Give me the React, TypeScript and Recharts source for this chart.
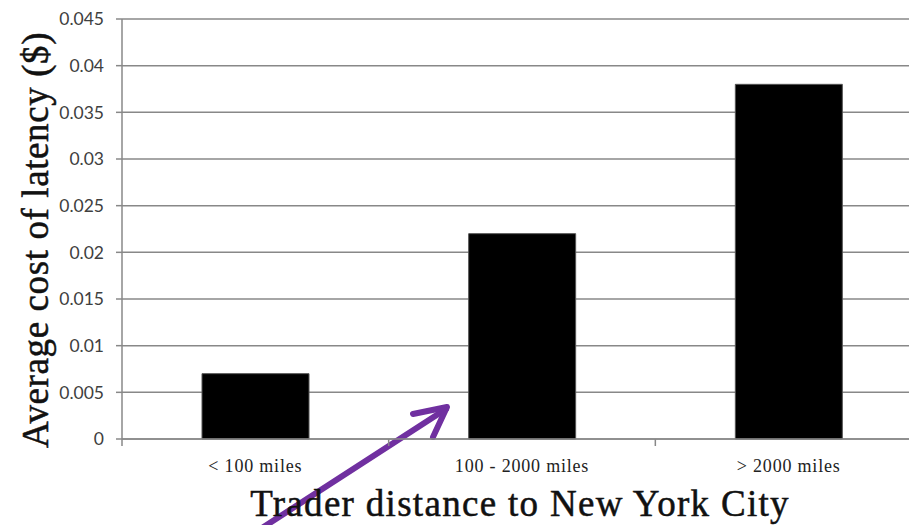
import React from 'react';
import { BarChart, Bar, XAxis, YAxis, CartesianGrid, Customized } from 'recharts';

const categories = ['< 100 miles', '100 - 2000 miles', '> 2000 miles'];
const costs = [0.007, 0.022, 0.038];
const yTicks = [0, 0.005, 0.01, 0.015, 0.02, 0.025, 0.03, 0.035, 0.04, 0.045];

const data = categories.map((c, i) => ({ name: c, cost: costs[i] }));

const titleStyle = { fontFamily: 'Liberation Serif', fill: '#111', stroke: '#111', strokeWidth: 0.5 };
const TICK_MARGIN = 20;

const Arrow = () => (
  <g>
    <line x1={262} y1={528} x2={446} y2={409} stroke="#7030A0" strokeWidth={6} strokeLinecap="round" />
    <polyline points="413,414 447,407 433,437" fill="none" stroke="#7030A0" strokeWidth={6} strokeLinecap="round" strokeLinejoin="round" />
  </g>
);

const YTitle = (props: any) => {
  const vb = props.viewBox || {};
  const cx = 35;
  const cy = vb.y + vb.height / 2 + 11;
  return (
    <text x={cx} y={cy} transform={`rotate(-90, ${cx}, ${cy})`} textAnchor="middle" dominantBaseline="central" fontSize={37} letterSpacing={0.6} style={titleStyle}>
      Average cost of latency ($)
    </text>
  );
};

const XTitle = () => (
  <text x={520} y={516} textAnchor="middle" fontSize={37} letterSpacing={1.3} style={titleStyle}>
    Trader distance to New York City
  </text>
);

const CatTick = (props: any) => {
  const { x, y, payload, index, visibleTicksCount } = props;
  const off = payload && payload.offset ? payload.offset : 0;
  const axisY = y - TICK_MARGIN;
  const last = index === (visibleTicksCount ?? categories.length) - 1;
  return (
    <g>
      <line x1={x - off} x2={x - off} y1={axisY} y2={axisY + 7} stroke="#888" strokeWidth={1.5} />
      {last && <line x1={x + off} x2={x + off} y1={axisY} y2={axisY + 7} stroke="#888" strokeWidth={1.5} />}
      <text x={x} y={y} dy="0.71em" textAnchor="middle" fontFamily="Liberation Serif" fontSize={18} fill="#222" letterSpacing={0.8}>
        {payload.value}
      </text>
    </g>
  );
};

export default function App() {
  return (
    <div style={{ position: 'absolute', left: 0, top: 0, width: 909, height: 525, overflow: 'hidden', background: '#fff' }}>
      <BarChart width={922} height={525} data={data} margin={{ top: 19, right: 0, left: 0, bottom: 0 }} barCategoryGap="30%">
        <CartesianGrid vertical={false} stroke="#888" strokeWidth={1.5} />
        <XAxis
          dataKey="name"
          height={86}
          interval={0}
          axisLine={{ stroke: '#888', strokeWidth: 1.5 }}
          tickLine={false}
          tickSize={0}
          tickMargin={TICK_MARGIN}
          tick={<CatTick />}
          label={<XTitle />}
        />
        <YAxis
          width={122}
          domain={[0, 0.045]}
          ticks={yTicks}
          interval={0}
          axisLine={{ stroke: '#888', strokeWidth: 1.5 }}
          tickLine={{ stroke: '#888', strokeWidth: 1.5 }}
          tickSize={6}
          tickMargin={12}
          tick={{ fontFamily: 'Lato', fontSize: 17.5, fill: '#404040' }}
          label={<YTitle />}
        />
        <Bar dataKey="cost" fill="#000" stroke="#555" strokeWidth={1} isAnimationActive={false} />
        <Customized component={Arrow} />
      </BarChart>
    </div>
  );
}
